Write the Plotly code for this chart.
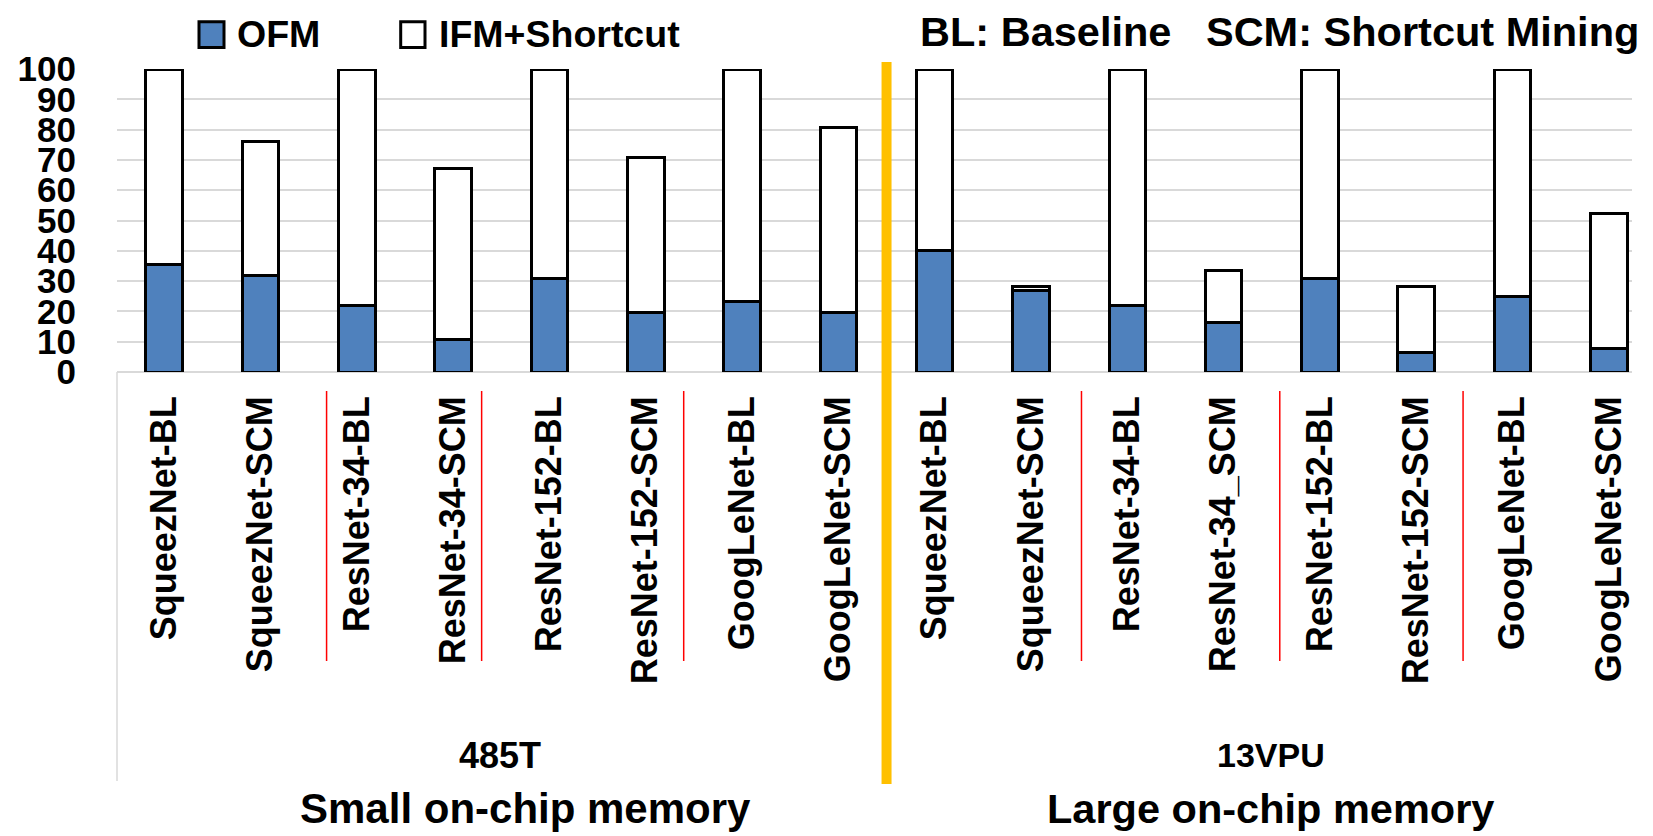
import plotly.graph_objects as go

# ---------------- data ----------------
categories = ["SqueezNet-BL", "SqueezNet-SCM", "ResNet-34-BL", "ResNet-34-SCM",
              "ResNet-152-BL", "ResNet-152-SCM", "GoogLeNet-BL", "GoogLeNet-SCM",
              "SqueezNet-BL", "SqueezNet-SCM", "ResNet-34-BL", "ResNet-34_SCM",
              "ResNet-152-BL", "ResNet-152-SCM", "GoogLeNet-BL", "GoogLeNet-SCM"]
ofm = [35.5, 31.8, 22.1, 10.7, 30.9, 19.5, 23.3, 19.5,
       40.1, 26.8, 22.1, 16.2, 30.9, 6.6, 24.9, 7.9]
ifm_shortcut = [64.5, 44.4, 77.9, 56.5, 69.1, 51.2, 76.7, 61.1,
                59.9, 1.3, 77.9, 17.2, 69.1, 21.7, 75.1, 44.4]
series_names = ["OFM", "IFM+Shortcut"]
group_labels = ["485T", "13VPU"]
memory_labels = ["Small on-chip memory", "Large on-chip memory"]
note_text = "BL: Baseline\u00a0\u00a0\u00a0SCM: Shortcut Mining"
y_ticks = list(range(0, 101, 10))

# ---------------- geometry ----------------
W, H = 1653, 836
ML, MR, MT, MB = 117, 21, 69, 464
PW = W - ML - MR
PH = H - MT - MB
FONT = "Liberation Sans, Arial, sans-serif"
BLUE = "#4F81BD"


def px(xp):
    return (xp - ML) / PW


def py(yp):
    return (H - MB - yp) / PH


x_idx = list(range(len(categories)))

fig = go.Figure()
fig.add_trace(go.Bar(x=x_idx, y=ofm, name=series_names[0], width=0.38,
                     marker=dict(color=BLUE, line=dict(color="black", width=3)),
                     cliponaxis=False))
fig.add_trace(go.Bar(x=x_idx, y=ifm_shortcut, name=series_names[1], width=0.38,
                     marker=dict(color="white", line=dict(color="black", width=3)),
                     cliponaxis=False))

shapes = []
# left gray category-axis border
shapes.append(dict(type="line", xref="paper", yref="paper", x0=0, x1=0,
                   y0=0, y1=py(781), line=dict(color="#D9D9D9", width=1.5)))
# red separators between models
for xs in [1.686, 3.296, 5.394, 9.524, 11.583, 13.486]:
    shapes.append(dict(type="line", xref="x", yref="paper", x0=xs, x1=xs,
                       y0=py(391), y1=py(661), line=dict(color="#FF0000", width=1.5)))
# orange group divider
shapes.append(dict(type="line", xref="x", yref="paper", x0=7.5, x1=7.5,
                   y0=py(784), y1=py(62), line=dict(color="#FFC000", width=10)))
# legend swatches
shapes.append(dict(type="rect", xref="paper", yref="paper", x0=px(199), x1=px(224),
                   y0=py(47.5), y1=py(21.7), fillcolor=BLUE,
                   line=dict(color="black", width=3)))
shapes.append(dict(type="rect", xref="paper", yref="paper", x0=px(400.7), x1=px(425),
                   y0=py(47.5), y1=py(21.7), fillcolor="white",
                   line=dict(color="black", width=3)))

bold = dict(family=FONT, color="black", weight="bold")
annotations = [
    dict(text=series_names[0], x=px(235), y=py(34), xanchor="left", yanchor="middle",
         font=dict(size=37.5, **bold)),
    dict(text=series_names[1], x=px(436.7), y=py(34), xanchor="left", yanchor="middle",
         font=dict(size=37.5, **bold)),
    dict(text=note_text, x=px(1279.6), y=py(31), xanchor="center", yanchor="middle",
         font=dict(size=41.5, **bold)),
    dict(text=group_labels[0], x=px(499.5), y=py(755), xanchor="center", yanchor="middle",
         font=dict(size=36, **bold)),
    dict(text=group_labels[1], x=px(1270.7), y=py(755), xanchor="center", yanchor="middle",
         font=dict(size=34, **bold)),
    dict(text=memory_labels[0], x=px(525), y=py(808), xanchor="center", yanchor="middle",
         font=dict(size=42, **bold)),
    dict(text=memory_labels[1], x=px(1270), y=py(808), xanchor="center", yanchor="middle",
         font=dict(size=41.5, **bold)),
]
for a in annotations:
    a.update(xref="paper", yref="paper", showarrow=False)

fig.update_layout(
    width=W, height=H,
    margin=dict(l=ML, r=MR, t=MT, b=MB, pad=0),
    barmode="stack",
    plot_bgcolor="white", paper_bgcolor="white",
    showlegend=False,
    shapes=shapes,
    annotations=annotations,
    xaxis=dict(range=[-0.49, 15.24], tickvals=x_idx, ticktext=categories,
               tickangle=-90, showgrid=False, zeroline=False, showline=False,
               ticks="", ticklabelstandoff=16,
               tickfont=dict(size=36, **bold)),
    yaxis=dict(range=[0, 100], tickvals=y_ticks, showgrid=True,
               gridcolor="#D9D9D9", gridwidth=1.5, zeroline=True,
               zerolinecolor="#D9D9D9", zerolinewidth=1.5, showline=False,
               ticks="", ticklabelstandoff=40,
               tickfont=dict(size=35, **bold)),
)

fig.write_html("out.html", config={"displayModeBar": False},
               post_script="document.body.style.margin='0';document.body.style.padding='0';")
